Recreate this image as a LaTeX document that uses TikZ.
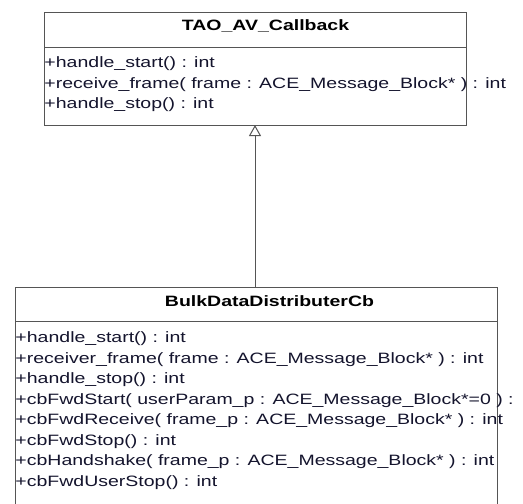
\documentclass[tikz,border=0pt]{standalone}
\usepackage{fontspec}
\newfontfamily\umlfont[FakeStretch=1.3]{Liberation Sans}
\usetikzlibrary{arrows.meta}
\definecolor{umltext}{RGB}{20,20,45}
\definecolor{umlline}{RGB}{85,85,85}
\tikzset{
  classbox/.style={draw=umlline, line width=1pt, fill=white, rectangle, inner sep=0pt, outer sep=0pt},
  mtext/.style={inner sep=0pt, outer sep=0pt, anchor=base west, text=umltext, font=\umlfont\fontsize{15pt}{20pt}\selectfont},
  ttext/.style={inner sep=0pt, outer sep=0pt, anchor=base, text=black, font=\umlfont\bfseries\fontsize{15pt}{20pt}\selectfont},
  sepline/.style={draw=umlline, line width=1pt},
  inherit/.style={draw=umlline, line width=1pt, -{Triangle[open, length=11pt, width=12pt, fill=white]}}
}
\begin{document}
\begin{tikzpicture}[x=1pt,y=-1pt]
\useasboundingbox (0,0) rectangle (523,504);
\fill[white] (0,0) rectangle (523,504);
\clip (0,0) rectangle (523,504);
% superclass
\node[classbox, minimum width=422pt, minimum height=113pt, anchor=north west] (super) at (44,12) {};
\draw[sepline] ([yshift=-35pt]super.north west) -- ([yshift=-35pt]super.north east);
\node[ttext] (supertitle) at (265.5,30.5) {TAO\_AV\_Callback};
\node[mtext] (s1) at (44.5,67.5) {+handle\_start() : int};
\node[mtext] (s2) at (44.5,88) {+receive\_frame( frame : ACE\_Message\_Block* ) : int};
\node[mtext] (s3) at (44.5,108.5) {+handle\_stop() : int};
% subclass
\node[classbox, minimum width=482pt, minimum height=250pt, anchor=north west] (sub) at (15,287) {};
\draw[sepline] ([yshift=-34pt]sub.north west) -- ([yshift=-34pt]sub.north east);
\node[ttext] (subtitle) at (269.5,306) {BulkDataDistributerCb};
\node[mtext] (b1) at (15.5,342.5) {+handle\_start() : int};
\node[mtext] (b2) at (15.5,363) {+receiver\_frame( frame : ACE\_Message\_Block* ) : int};
\node[mtext] (b3) at (15.5,383.5) {+handle\_stop() : int};
\node[mtext] (b4) at (15.5,404) {+cbFwdStart( userParam\_p : ACE\_Message\_Block*=0 ) :};
\node[mtext] (b5) at (15.5,424.5) {+cbFwdReceive( frame\_p : ACE\_Message\_Block* ) : int};
\node[mtext] (b6) at (15.5,445) {+cbFwdStop() : int};
\node[mtext] (b7) at (15.5,465.5) {+cbHandshake( frame\_p : ACE\_Message\_Block* ) : int};
\node[mtext] (b8) at (15.5,486) {+cbFwdUserStop() : int};
% generalization
\draw[inherit] (super.south |- sub.north) -- (super.south);
\end{tikzpicture}
\end{document}
